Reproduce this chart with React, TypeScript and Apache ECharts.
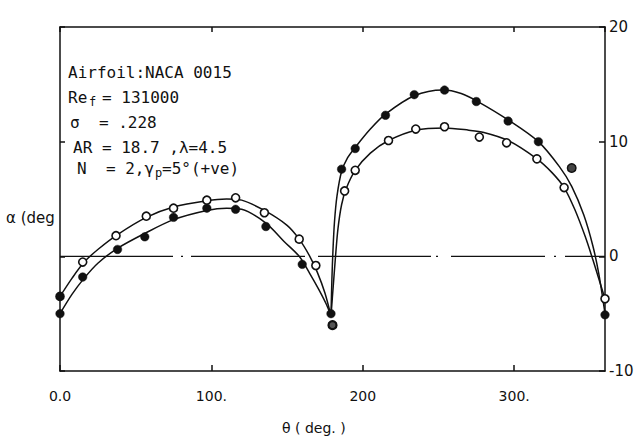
import React, { useEffect, useRef } from "react";
import * as echarts from "echarts";

// ---- measured points (theta in deg, alpha in deg) ----
const openTheta = [0, 15, 37, 57, 75, 97, 116, 135, 158, 169, 180, 188, 195, 217, 235, 254, 277, 295, 315, 333, 360];
const openAlpha = [-3.5, -0.5, 1.8, 3.5, 4.2, 4.9, 5.1, 3.8, 1.5, -0.8, -6.0, 5.7, 7.5, 10.1, 11.1, 11.3, 10.4, 9.9, 8.5, 6.0, -3.7];
const filledTheta = [0, 15, 38, 56, 75, 97, 116, 136, 160, 179, 186, 195, 215, 234, 254, 275, 296, 316, 338, 360];
const filledAlpha = [-5.0, -1.8, 0.6, 1.7, 3.4, 4.2, 4.1, 2.6, -0.7, -5.0, 7.6, 9.4, 12.3, 14.1, 14.5, 13.5, 11.8, 10.0, 7.7, -5.1];

// ---- fitted curves ----
const openCurve1Theta = [0, 8, 16, 25, 38, 57, 75, 97, 110, 120, 135, 150, 158, 165, 170, 175, 179];
const openCurve1Alpha = [-3.5, -1.9, -0.5, 0.6, 1.9, 3.4, 4.3, 4.85, 5.0, 4.9, 4.0, 2.7, 1.5, 0.0, -1.4, -3.2, -5.2];
const filledCurve1Theta = [0, 8, 16, 25, 38, 56, 75, 97, 110, 120, 136, 148, 158, 165, 171, 176, 179];
const filledCurve1Alpha = [-5.0, -3.3, -1.9, -0.6, 0.7, 2.0, 3.2, 4.0, 4.2, 4.1, 2.9, 1.3, 0.0, -1.5, -2.9, -4.2, -5.2];
const filledCurve2Theta = [179, 179.6, 180.3, 181.3, 183, 186, 190, 195, 205, 215, 234, 253, 265, 276, 296, 316, 330, 338, 346, 352, 356, 360];
const filledCurve2Alpha = [-5.2, -2.0, 0.5, 3.0, 5.3, 7.4, 8.6, 9.5, 11.1, 12.4, 14.0, 14.5, 14.2, 13.5, 11.9, 10.0, 7.8, 6.1, 3.6, 0.9, -1.6, -5.0];
const openCurve2Theta = [179, 180.6, 182, 183.6, 186, 189, 195, 205, 217, 235, 254, 270, 280, 296, 315, 325, 333, 340, 347, 352, 356, 360];
const openCurve2Alpha = [-5.2, -2.4, 0.0, 2.4, 4.5, 5.9, 7.5, 9.0, 10.1, 11.0, 11.2, 11.0, 10.8, 10.1, 8.5, 7.3, 6.0, 4.1, 1.7, -0.3, -2.0, -3.7];

const zeroLineTheta = [0, 360];
const zeroLineAlpha = [0, 0];

const xTickLabels: Record<string, string> = { "0": "0.0", "100": "100.", "200": "200", "300": "300." };
const yTickLabels: Record<string, string> = { "-10": "-10", "0": "0", "10": "10", "20": "20" };

// open-series points drawn dark in the figure
const openDarkIdx = [0];
const openThickIdx = [10];
const filledGreyIdx = [18];

const zip = (a: number[], b: number[]) => a.map((v, i) => [v, b[i]]);

const INK = "#111";
const MONO = '"DejaVu Sans Mono", monospace';

export default function App() {
  const ref = useRef<HTMLDivElement>(null);
  useEffect(() => {
    document.body.style.margin = "0";
    const chart = echarts.init(ref.current!, null, { renderer: "svg" });

    const lineSeries = (t: number[], a: number[]) => ({
      type: "line",
      data: zip(t, a),
      showSymbol: false,
      symbol: "none",
      smooth: 0.3,
      lineStyle: { color: INK, width: 1.5 },
      z: 2,
      silent: true,
    });

    const openData = zip(openTheta, openAlpha).map((p, i) => {
      if (openDarkIdx.includes(i)) return { value: p, itemStyle: { color: INK, borderColor: INK } };
      if (openThickIdx.includes(i)) return { value: p, itemStyle: { color: "#555", borderColor: INK, borderWidth: 2.2 } };
      return { value: p };
    });
    const filledData = zip(filledTheta, filledAlpha).map((p, i) => {
      if (filledGreyIdx.includes(i)) return { value: p, itemStyle: { color: "#444", borderColor: INK, borderWidth: 1.5 } };
      return { value: p };
    });

    const txt = (text: string, x: number, y: number, size = 16, font = MONO) => ({
      type: "text",
      x,
      y,
      style: { text, fill: INK, font: `${size}px ${font}`, verticalAlign: "middle", align: "left" },
      z: 10,
    });

    const axisLine = { show: true, onZero: false, lineStyle: { color: INK, width: 1.5 } };

    const option: any = {
      animation: false,
      backgroundColor: "#fff",
      grid: { left: 60, right: 37, top: 27, bottom: 66 },
      xAxis: [
        {
          type: "value",
          min: 0,
          max: 360,
          interval: 100,
          position: "bottom",
          axisLine,
          axisTick: { show: true, inside: true, length: 6, lineStyle: { color: INK, width: 1.5 } },
          axisLabel: {
            margin: 18,
            fontSize: 14,
            color: INK,
            fontFamily: "DejaVu Sans",
            showMaxLabel: false,
            formatter: (v: number) => xTickLabels[String(v)] ?? "",
          },
          splitLine: { show: false },
        },
        {
          type: "value",
          min: 0,
          max: 360,
          interval: 100,
          position: "top",
          axisLine,
          axisTick: { show: true, inside: true, length: 5, lineStyle: { color: INK, width: 1.5 } },
          axisLabel: { show: false },
          splitLine: { show: false },
        },
      ],
      yAxis: [
        {
          type: "value",
          min: -10,
          max: 20,
          interval: 10,
          position: "right",
          axisLine,
          axisTick: { show: true, inside: true, length: 6, lineStyle: { color: INK, width: 1.5 } },
          axisLabel: {
            margin: 4,
            fontSize: 15,
            color: INK,
            fontFamily: "DejaVu Sans",
            formatter: (v: number) => yTickLabels[String(v)] ?? String(v),
          },
          splitLine: { show: false },
        },
        {
          type: "value",
          min: -10,
          max: 20,
          interval: 10,
          position: "left",
          axisLine,
          axisTick: { show: true, inside: true, length: 5, lineStyle: { color: INK, width: 1.5 } },
          axisLabel: { show: false },
          splitLine: { show: false },
        },
      ],
      series: [
        {
          type: "line",
          data: zip(zeroLineTheta, zeroLineAlpha),
          symbol: "none",
          lineStyle: { color: INK, width: 1.3, type: [113, 8, 2, 8, 114, 13, 113, 5, 2, 13, 94, 9, 2, 9, 60] },
          z: 1,
          silent: true,
        },
        lineSeries(openCurve1Theta, openCurve1Alpha),
        lineSeries(openCurve2Theta, openCurve2Alpha),
        lineSeries(filledCurve1Theta, filledCurve1Alpha),
        lineSeries(filledCurve2Theta, filledCurve2Alpha),
        {
          type: "scatter",
          data: openData,
          symbol: "circle",
          symbolSize: 8,
          itemStyle: { color: "#fff", borderColor: INK, borderWidth: 1.6, opacity: 1 },
          z: 5,
        },
        {
          type: "scatter",
          data: filledData,
          symbol: "circle",
          symbolSize: 8.5,
          itemStyle: { color: INK, borderColor: INK, borderWidth: 0.5, opacity: 1 },
          z: 5,
        },
      ],
      graphic: [
        txt("Airfoil:NACA 0015", 68, 72),
        txt("Re", 68, 97),
        txt("f", 89, 102, 12),
        txt("= 131000", 102, 97),
        txt("σ  = .228", 70, 122),
        txt("AR = 18.7 ,λ=4.5", 73, 147),
        txt("N  = 2,γ", 77, 168),
        txt("p", 155, 173, 12),
        txt("=5°(+ve)", 162, 168),
        txt("α (deg", 6, 218, 15, '"DejaVu Sans", sans-serif'),
        txt("θ ( deg. )", 282, 428, 14, '"DejaVu Sans", sans-serif'),
      ],
    };
    chart.setOption(option);
    return () => chart.dispose();
  }, []);
  return <div ref={ref} style={{ width: 642, height: 437 }} />;
}
